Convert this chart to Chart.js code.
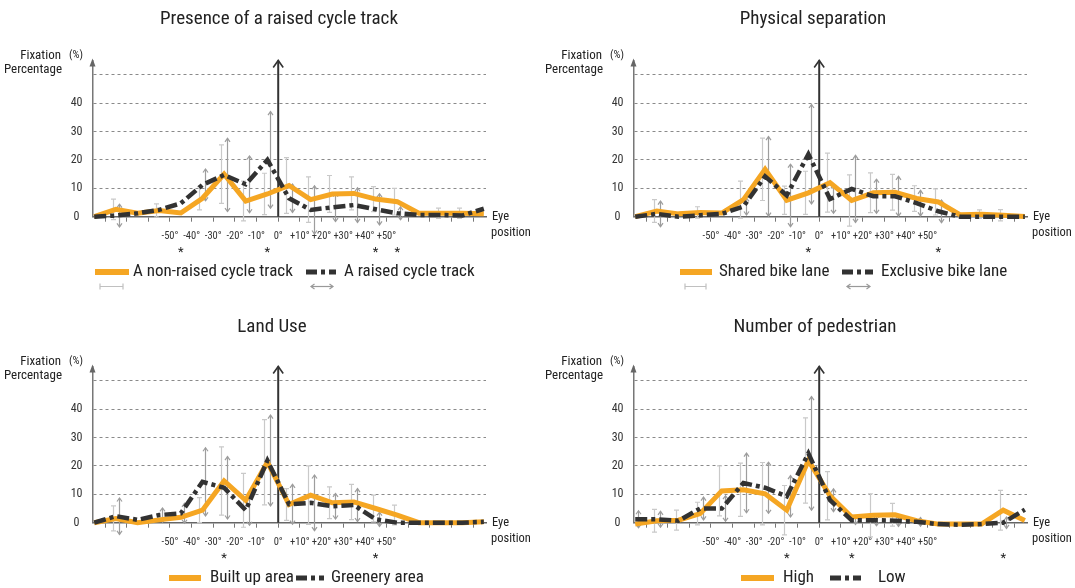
<!DOCTYPE html>
<html><head><meta charset="utf-8">
<script src="https://cdn.jsdelivr.net/npm/chart.js@4.4.0/dist/chart.umd.min.js"></script>
<style>
html,body{margin:0;padding:0;width:1075px;height:588px;overflow:hidden;background:#fff;}
.p{position:absolute;width:540px;height:300px;}
canvas{display:block;}
</style></head><body>
<div class="p" style="left:0;top:0"><canvas id="c1" width="540" height="300"></canvas></div>
<div class="p" style="left:541px;top:0"><canvas id="c2" width="540" height="300"></canvas></div>
<div class="p" style="left:0;top:306px"><canvas id="c3" width="540" height="300"></canvas></div>
<div class="p" style="left:541px;top:306px"><canvas id="c4" width="540" height="300"></canvas></div>
<script>
// ---------- DATA ----------
const angleSlots = [0,1,2,3,4,5,6,7,8,9,10,11,12,13,14,15,16,17,18];
const slotBoundaries = [0.5,1.5,2.5,3.5,4.5,5.5,6.5,7.5,8.5,9.5,10.5,11.5,12.5,13.5,14.5,15.5,16.5,17.5];
const angleTickSlots = [3.5,4.5,5.5,6.5,7.5,8.5,9.5,10.5,11.5,12.5,13.5];
const angleTickLabels = ['-50°','-40°','-30°','-20°','-10°','0°','+10°','+20°','+30°','+40°','+50°'];
const zeroSlot = 8.5;
const yTickValues = [0,10,20,30,40,50];
const yTickLabels = ['0','10','20','30','40',''];

const titles = ['Presence of a raised cycle track','Physical separation','Land Use','Number of pedestrian'];
const seriesNames = [
  ['A non-raised cycle track','A raised cycle track'],
  ['Shared bike lane','Exclusive bike lane'],
  ['Built up area','Greenery area'],
  ['High','Low']
];

const p1Orange = [0,2.6,1.2,2.2,1.3,6.5,15,5.5,8,11,6,8,8.2,6.2,5.3,1.2,1.2,1.2,1];
const p1Dark   = [0,0.4,1.2,2.4,4.7,11.2,14.7,11.4,20,6.5,2.4,3.3,4.1,2.6,1.2,0.6,0.6,0.4,2.8];
const p1OrangeErr = [0,3.6,0,2.3,0,4.1,10.3,7,7.3,9.8,8,6.5,5.8,4.4,4.7,0,1.8,1.8,0];
const p1DarkErr   = [0,4,0,0,0,5.6,12.9,10,17,5,8.5,5,6.1,5.5,2.3,0,0,0,0];
const p1Stars = [4,8,13,14];

const p2Orange = [0,2,1,1.5,1.3,6,16.7,5.8,8.4,12,5.7,8.4,8.6,6.4,5.2,0.7,0.9,0.5,0.1];
const p2Dark   = [0,1,0,0.5,1,3.6,14.2,7.5,22,6.2,9.8,7.2,7.2,4.8,1.9,0,0,0,0];
const p2OrangeErr = [0,4,0,2,0,6.5,11,5,7.6,10.4,9,7,6.3,4.5,4.6,0,1.5,2,0];
const p2DarkErr   = [0,4.5,0,0,0,3,14,11,17.5,5,11.8,6,7,4.5,4,0,0,0,0];
const p2Stars = [8,14];

const p3Orange = [0,1.5,0,1,1.9,4.4,14.7,7.9,21.3,6.4,9.7,7,7.3,5,2.7,0,0,0,0.3];
const p3Dark   = [0,2.3,1,2.7,3.3,14.4,12.3,4.4,21.9,6.5,7,5.8,6.2,1.2,0,0,0,0,0.3];
const p3OrangeErr = [0,4.4,0,0,0,4.4,12,9.5,15,5.6,10.3,5.6,6.2,4.7,3.5,0,0,0,0];
const p3DarkErr   = [0,6.4,0,2.5,3.5,12,11,5.3,16,7,9.8,4.5,5.8,2.5,0,0,0,0,0];
const p3Stars = [6,13];

const p4Orange = [-0.5,0.7,0.9,3.2,11.2,11.6,10.2,4.4,21.9,9.5,2,2.6,2.8,0.7,-0.5,-0.5,-0.5,4.4,0.8];
const p4Dark   = [1.2,1.2,0.7,5,5,14,12.3,9.3,24.4,7.9,0.9,0.9,0.7,0.3,-0.5,-0.7,-0.5,0,4.6];
const p4OrangeErr = [0,4,3.5,4,8.8,9.4,11,8.7,15,8.5,0,7.6,4,0,0,0,0,7,0];
const p4DarkErr   = [3,2.8,0,4,4.5,10.5,9,7.3,20,4,1.5,2,2,1.5,0,0,0,2,0];
const p4Stars = [7,10,17];

// ---------- STYLE ----------
const F = "'Liberation Sans Narrow','Roboto Condensed','Roboto',sans-serif";
const ORANGE = '#F5A623';
const DARK = '#323232';
const DASH = [12,4,4,4];

const panels = [
  {canvas:'c1', title:titles[0], names:seriesNames[0], a:p1Orange, b:p1Dark, errs:[p1OrangeErr,p1DarkErr], stars:p1Stars,
   titleX:279, titleY:19, leg:{y:272, s1:[95,129], t1:133, s2:[306,336], t2:344}},
  {canvas:'c2', title:titles[1], names:seriesNames[1], a:p2Orange, b:p2Dark, errs:[p2OrangeErr,p2DarkErr], stars:p2Stars,
   titleX:272, titleY:19, leg:{y:272, s1:[139,171], t1:178, s2:[301,332], t2:340}},
  {canvas:'c3', title:titles[2], names:seriesNames[2], a:p3Orange, b:p3Dark, errs:[p3OrangeErr,p3DarkErr], stars:p3Stars,
   titleX:272, titleY:21, leg:{y:272, s1:[169,201], t1:210, s2:[296,324], t2:331}},
  {canvas:'c4', title:titles[3], names:seriesNames[3], a:p4Orange, b:p4Dark, errs:[p4OrangeErr,p4DarkErr], stars:p4Stars,
   titleX:274, titleY:21, leg:{y:272, s1:[200,233], t1:242, s2:[289,320], t2:337}}
];

function chevron(ctx, x, y, w, h, dir) {
  ctx.beginPath();
  ctx.moveTo(x - w, y + dir*h);
  ctx.lineTo(x, y);
  ctx.lineTo(x + w, y + dir*h);
  ctx.stroke();
}
function chevronH(ctx, x, y, w, h, dir) {
  ctx.beginPath();
  ctx.moveTo(x + dir*h, y - w);
  ctx.lineTo(x, y);
  ctx.lineTo(x + dir*h, y + w);
  ctx.stroke();
}

function decor(cfg) {
  return {
    id: 'decor_' + cfg.canvas,
    beforeDatasetsDraw(chart) {
      const {ctx, chartArea: a, scales: {x, y}} = chart;
      ctx.save();
      // error bars
      chart.data.datasets.forEach((ds, di) => {
        const errs = cfg.errs[di];
        const off = di === 0 ? -3 : 3;
        ctx.strokeStyle = di === 0 ? '#c9c9c9' : '#9d9d9d';
        ctx.lineWidth = 1.2;
        ds.data.forEach((p, i) => {
          const e = errs[i];
          if (!e) return;
          const px = Math.round(x.getPixelForValue(p.x) + off) + 0.5;
          const yt = y.getPixelForValue(p.y + e), yb = y.getPixelForValue(p.y - e);
          ctx.beginPath(); ctx.moveTo(px, yt); ctx.lineTo(px, yb); ctx.stroke();
          if (di === 0) {
            ctx.beginPath();
            ctx.moveTo(px - 2.5, yt); ctx.lineTo(px + 2.5, yt);
            ctx.moveTo(px - 2.5, yb); ctx.lineTo(px + 2.5, yb);
            ctx.stroke();
          } else {
            chevron(ctx, px, yt, 2.5, 3.5, 1);
            chevron(ctx, px, yb, 2.5, 3.5, -1);
          }
        });
      });
      // center (0°) axis
      const cx = x.getPixelForValue(zeroSlot);
      ctx.strokeStyle = '#333'; ctx.lineWidth = 2;
      ctx.beginPath(); ctx.moveTo(cx, y.getPixelForValue(0)); ctx.lineTo(cx, a.top); ctx.stroke();
      ctx.lineWidth = 1.6;
      chevron(ctx, cx, a.top, 5, 7, 1);
      // left axis arrow (filled)
      ctx.fillStyle = '#666';
      ctx.beginPath();
      ctx.moveTo(a.left, a.top - 2);
      ctx.lineTo(a.left - 3, a.top + 6);
      ctx.lineTo(a.left + 3, a.top + 6);
      ctx.closePath(); ctx.fill();
      ctx.restore();
    },
    afterDraw(chart) {
      const {ctx, chartArea: a, scales: {x, y}} = chart;
      ctx.save();
      ctx.fillStyle = '#222';
      // title
      ctx.font = '19px ' + F;
      ctx.textAlign = 'center'; ctx.textBaseline = 'middle';
      ctx.fillText(cfg.title, cfg.titleX, cfg.titleY);
      // y-axis title
      ctx.font = '13px ' + F;
      ctx.textAlign = 'right';
      ctx.fillText('Fixation', 61, 55.5);
      ctx.fillText('Percentage', 62, 70);
      ctx.textAlign = 'left';
      ctx.font = '11px ' + F;
      ctx.fillText('(%)', 69, 55.5);
      // x-axis title
      ctx.font = '12.5px ' + F;
      ctx.fillText('Eye', a.right + 6, y.getPixelForValue(0));
      ctx.fillText('position', a.right + 5, y.getPixelForValue(0) + 16);
      // asterisks
      ctx.font = '13px ' + F;
      ctx.textAlign = 'center'; ctx.textBaseline = 'alphabetic';
      cfg.stars.forEach(s => ctx.fillText('*', x.getPixelForValue(angleSlots[s]), 256));
      // legend
      const L = cfg.leg;
      ctx.lineCap = 'butt';
      ctx.strokeStyle = ORANGE; ctx.lineWidth = 6;
      ctx.beginPath(); ctx.moveTo(L.s1[0], L.y); ctx.lineTo(L.s1[1], L.y); ctx.stroke();
      ctx.strokeStyle = DARK; ctx.lineWidth = 5; ctx.setLineDash([11,4,4,4]);
      ctx.beginPath(); ctx.moveTo(L.s2[0], L.y); ctx.lineTo(L.s2[1], L.y); ctx.stroke();
      ctx.setLineDash([]);
      ctx.font = '17px ' + F;
      ctx.textAlign = 'left'; ctx.textBaseline = 'middle';
      ctx.fillStyle = '#222';
      ctx.fillText(cfg.names[0], L.t1, L.y);
      ctx.fillText(cfg.names[1], L.t2, L.y);
      // legend error-bar icons
      const iy = L.y + 14.5;
      ctx.lineWidth = 1.2;
      ctx.strokeStyle = '#c0c0c0';
      const i1a = L.s1[0] + 5, i1b = L.s1[1] - 6;
      ctx.beginPath(); ctx.moveTo(i1a, iy); ctx.lineTo(i1b, iy);
      ctx.moveTo(i1a, iy - 3); ctx.lineTo(i1a, iy + 3);
      ctx.moveTo(i1b, iy - 3); ctx.lineTo(i1b, iy + 3); ctx.stroke();
      ctx.strokeStyle = '#999';
      const i2a = L.s2[0] + 5, i2b = L.s2[1] - 3;
      ctx.beginPath(); ctx.moveTo(i2a, iy); ctx.lineTo(i2b, iy); ctx.stroke();
      chevronH(ctx, i2a, iy, 2.5, 3.5, 1);
      chevronH(ctx, i2b, iy, 2.5, 3.5, -1);
      ctx.restore();
    }
  };
}

function makePanel(cfg) {
  const xy = vals => angleSlots.map((s, i) => ({x: s, y: vals[i]}));
  new Chart(document.getElementById(cfg.canvas), {
    type: 'line',
    data: {datasets: [
      {label: cfg.names[0], data: xy(cfg.a), borderColor: ORANGE, backgroundColor: ORANGE,
       borderWidth: 5, pointRadius: 0, tension: 0, order: 2, clip: false},
      {label: cfg.names[1], data: xy(cfg.b), borderColor: DARK, backgroundColor: DARK,
       borderWidth: 4.5, borderDash: DASH, pointRadius: 0, tension: 0, order: 1, clip: false}
    ]},
    options: {
      responsive: false, animation: false, devicePixelRatio: 1,
      events: [],
      layout: {padding: {left: 0, top: 60.5, right: 54, bottom: 0}},
      plugins: {legend: {display: false}, tooltip: {enabled: false}, title: {display: false}},
      scales: {
        x: {
          type: 'linear', min: -0.08, max: 18.1,
          afterFit: s => { s.height = 83.3; },
          afterBuildTicks: s => { s.ticks = slotBoundaries.map(v => ({value: v})); },
          ticks: {autoSkip: false, maxRotation: 0, minRotation: 0, padding: 8, color: '#333',
                  font: {family: F, size: 10.5},
                  callback: v => { const k = angleTickSlots.indexOf(v); return k >= 0 ? angleTickLabels[k] : ''; }},
          grid: {display: true, drawOnChartArea: false, drawTicks: true, tickLength: 5, color: '#777', lineWidth: 1},
          border: {display: true, color: '#666', width: 1.5}
        },
        y: {
          min: 0, max: 55,
          afterFit: s => { s.width = 92.5; },
          afterBuildTicks: s => { s.ticks = yTickValues.map(v => ({value: v})); },
          ticks: {padding: 10, crossAlign: 'center', color: '#333', font: {family: F, size: 12},
                  callback: v => yTickLabels[yTickValues.indexOf(v)]},
          grid: {drawTicks: false, lineWidth: 1,
                 color: c => (c.tick && c.tick.value === 0) ? 'rgba(0,0,0,0)' : '#8a8a8a'},
          border: {display: true, color: '#777', width: 1.5, dash: [3, 3]}
        }
      }
    },
    plugins: [decor(cfg)]
  });
}
panels.forEach(makePanel);
</script>
</body></html>
